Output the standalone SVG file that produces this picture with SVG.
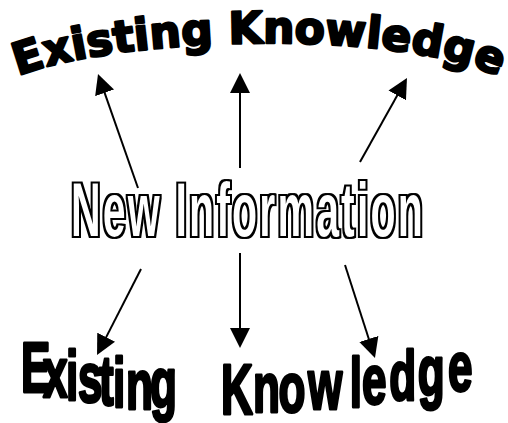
<svg xmlns="http://www.w3.org/2000/svg" width="508" height="423" viewBox="0 0 508 423">
<style>
.kn{font-family:"DejaVu Sans","Liberation Sans",sans-serif;font-weight:bold;fill:#000;stroke:#000;stroke-width:2.4;stroke-linejoin:round;}
.kb{font-family:"Liberation Sans","Arial",sans-serif;font-weight:bold;fill:#000;stroke:#000;stroke-width:3;stroke-linejoin:round;}
.ni{font-family:"Liberation Sans","Arial",sans-serif;font-weight:bold;fill:#000;filter:url(#outl);}
.arr{stroke:#000;stroke-width:2;fill:none;marker-end:url(#ah);}
</style>
<defs>
<marker id="ah" viewBox="0 0 20 20" refX="10" refY="10" markerWidth="20" markerHeight="20" markerUnits="userSpaceOnUse" orient="auto">
<path d="M0,0 L20,10 L0,20 z" fill="#000"/>
</marker>
<path id="arcTop" d="M 18,76 C 120,36 400,28 502,78"/>
<filter id="outl" x="-5%" y="-10%" width="110%" height="120%" color-interpolation-filters="sRGB">
<feMorphology in="SourceAlpha" operator="dilate" radius="0.4" result="inner"/>
<feMorphology in="SourceAlpha" operator="dilate" radius="1.9" result="outer"/>
<feFlood flood-color="#000" result="blk"/>
<feComposite in="blk" in2="outer" operator="in" result="outerBlk"/>
<feFlood flood-color="#fff" result="wht"/>
<feComposite in="wht" in2="inner" operator="in" result="innerWht"/>
<feMerge><feMergeNode in="outerBlk"/><feMergeNode in="innerWht"/></feMerge>
</filter>
</defs>
<rect width="508" height="423" fill="#fff"/>
<g id="node-top">
<text class="kn" font-size="44"><textPath href="#arcTop" startOffset="0">Existing Knowledge</textPath></text>
</g>
<g id="node-center">
<text class="ni" x="71" y="236" font-size="76" letter-spacing="4" textLength="354" lengthAdjust="spacingAndGlyphs">New Information</text>
</g>
<g id="node-bottom">
<text class="kb" font-size="70" transform="scale(0.63,1)" x="33.3 68.3 104.8 123.8 157.1 179.4 200 238.1 285.7 350.8 401.6 442 489 555 574.6 618 663 711.1" y="392 397 400 402 405 407 409 407 410 414 412 412 409 407 404 400 395 391">Existing Knowledge</text>
</g>
<g id="connectors">
<line class="arr" x1="138" y1="188" x2="101.3" y2="83.4"/>
<line class="arr" x1="240" y1="168" x2="240" y2="83"/>
<line class="arr" x1="360" y1="162" x2="402.1" y2="86.7"/>
<line class="arr" x1="141" y1="269" x2="101.6" y2="346.1"/>
<line class="arr" x1="240" y1="253" x2="240" y2="338"/>
<line class="arr" x1="345" y1="265" x2="371.9" y2="348.5"/>
</g>
</svg>
